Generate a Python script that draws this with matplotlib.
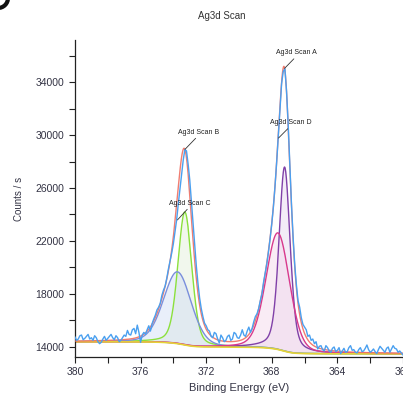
import numpy as np
import matplotlib
matplotlib.use("Agg")
import matplotlib.pyplot as plt
from matplotlib.ticker import MultipleLocator, AutoMinorLocator
from matplotlib.patches import Circle

plt.rcParams['font.family'] = ['Liberation Sans', 'DejaVu Sans']

# ---- measured spectrum (Binding energy 380 -> 360 eV, 0.1 eV step) ----
energy = np.round(np.linspace(380.0, 360.0, 201), 1)
counts = [
    14750, 14500, 14600, 14850, 14900, 14550, 14650, 14800, 14950, 14600,
    14700, 14500, 14850, 14700, 14400, 14250, 14350, 14600, 14800, 14500,
    14650, 14800, 14950, 14700, 14550, 14850, 14700, 14400, 14500, 14700,
    14900, 14800, 15250, 14950, 14900, 15300, 15400, 15000, 15650, 15100,
    14350, 14900, 15100, 14950, 15300, 15600, 15200, 15750, 16100, 16400,
    16800, 17000, 17300, 17900, 18300, 18600, 19200, 19900, 20500, 21100,
    21800, 22700, 23600, 24800, 25900, 27000, 28100, 28900, 28800, 27800,
    26600, 25000, 23300, 21700, 20100, 18800, 17700, 16900, 16300, 15800,
    15600, 15300, 15200, 14800, 14700, 15100, 15000, 14600, 14300, 14900,
    14700, 14400, 14500, 14800, 14900, 14500, 14600, 15100, 15000, 14700,
    14650, 14900, 15300, 14900, 14800, 15200, 15500, 15100, 15400, 15900,
    16300, 16500, 16900, 17500, 18000, 18900, 19600, 20300, 21200, 22200,
    23300, 24600, 26200, 28000, 30000, 32100, 33900, 34800, 35000, 33300,
    30800, 27800, 24800, 22300, 20200, 18700, 17500, 17000, 16200, 15700,
    15500, 15300, 14800, 14900, 14500, 14600, 14250, 14400, 13850, 14050,
    14100, 13800, 13700, 14100, 13950, 13700, 13600, 13900, 14000, 13650,
    13750, 13950, 13500, 13700, 13900, 13600, 13650, 13950, 14100, 13750,
    13800, 13600, 13550, 13800, 13950, 13650, 13700, 13900, 14150, 13800,
    13600, 13700, 13850, 13650, 13500, 13800, 14050, 13900, 13750, 13600,
    13900, 14000, 13600, 13850, 14100, 13900, 13850, 13600, 13700, 13550,
    13400,
]

# ---- fitted components (pseudo-Voigt) ----
comp_center = [373.30, 373.75, 367.22, 367.63]
comp_height = [10040, 5420, 13900, 8800]
comp_fwhm = [1.0, 2.0, 0.8, 1.7]
comp_lmix = [0.3, 0.2, 0.4, 0.2]
comp_group = [0, 0, 1, 1]
comp_line = ['#8be03c', '#7a8fdc', '#8040a8', '#d8398c']
comp_fill = ['#e2efd8', '#cfdcf4', '#e6d6ef', '#f3d6ea']

bg_base = 13480
bg_steps = [400, 510]

# annotations: (label, point E, point C, text E, text C)
ann_labels = ['Ag3d Scan A', 'Ag3d Scan D', 'Ag3d Scan B', 'Ag3d Scan C']
ann_point = [(367.22, 35030), (367.59, 29770), (373.29, 28920), (373.75, 23590)]
ann_text = [(366.49, 35960), (366.86, 30680), (372.48, 29960), (373.00, 24600)]


def pvoigt(x, c, h, w, m):
    d = x - c
    g = np.exp(-4 * np.log(2) * d**2 / w**2)
    lo = 1.0 / (1 + 4 * d**2 / w**2)
    return h * ((1 - m) * g + m * lo)


xa = np.linspace(360, 380, 2001)
comps = [pvoigt(xa, c, h, w, m) for c, h, w, m in
         zip(comp_center, comp_height, comp_fwhm, comp_lmix)]

bg = np.full_like(xa, float(bg_base))
for gi, step in enumerate(bg_steps):
    gsum = sum(cp for cp, g in zip(comps, comp_group) if g == gi)
    cum = np.cumsum(gsum)
    bg = bg + step * cum / cum[-1]

envelope = bg + sum(comps)

fig = plt.figure(figsize=(4.03, 3.97), dpi=100)
ax = fig.add_axes([0.186, 0.1008, 0.814, 0.7984])

for cp, fc in zip(comps, comp_fill):
    ax.fill_between(xa, bg, bg + cp, color=fc, alpha=0.45, lw=0, zorder=1)
for cp, lc in zip(comps, comp_line):
    ax.plot(xa, bg + cp, color=lc, lw=1.0, zorder=2)

ax.plot(xa, bg, color='#e6d436', lw=1.2, zorder=2)
ax.plot(xa, envelope, color='#ef6f62', lw=1.0, alpha=0.9, zorder=3)
ax.plot(energy, counts, color='#4aa0f0', lw=1.0, zorder=4)

for lab, (px, py), (tx, ty) in zip(ann_labels, ann_point, ann_text):
    ax.annotate(lab, xy=(px, py), xytext=(tx, ty), fontsize=5, color='#222222',
                ha='center', va='bottom', zorder=6,
                arrowprops=dict(arrowstyle='-', color='#333333', lw=0.6,
                                shrinkA=0, shrinkB=0, relpos=(0.5, 0.0)))

ax.set_xlim(380, 360)
ax.set_ylim(13245, 37170)
ax.xaxis.set_major_locator(MultipleLocator(4))
ax.xaxis.set_minor_locator(AutoMinorLocator(2))
ax.yaxis.set_major_locator(MultipleLocator(4000))
ax.yaxis.set_minor_locator(AutoMinorLocator(2))
ax.set_yticks([14000, 18000, 22000, 26000, 30000, 34000])

for s in ['top', 'right']:
    ax.spines[s].set_visible(False)
for s in ['left', 'bottom']:
    ax.spines[s].set_color('#222222')
    ax.spines[s].set_linewidth(0.9)

ax.tick_params(which='both', direction='out', length=4, width=0.8,
               colors='#222222', labelsize=7.5, labelcolor='#333344')

ax.set_xlabel('Binding Energy (eV)', fontsize=8, color='#333344', labelpad=4)
ax.set_ylabel('Counts / s', fontsize=7, color='#333344', labelpad=8)
fig.text(0.551, 0.96, 'Ag3d Scan', fontsize=7, color='#333333', ha='center', va='center')

fig.patches.append(Circle((-2, 399), 10, transform=None, facecolor='none',
                          edgecolor='#111111', lw=3.0))

fig.savefig('out.png', dpi=100)
